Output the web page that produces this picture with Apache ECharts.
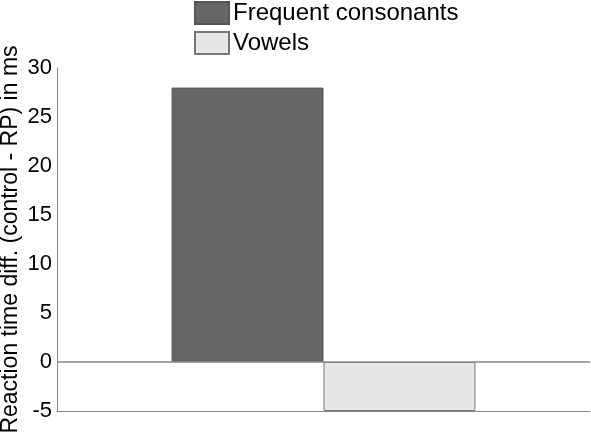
<!DOCTYPE html>
<html>
<head>
<meta charset="utf-8">
<script src="https://cdn.jsdelivr.net/npm/echarts@6/dist/echarts.min.js"></script>
<style>html,body{margin:0;padding:0;background:#fff;}#c{width:591px;height:439px;}</style>
</head>
<body>
<div id="c"></div>
<script>
const categories = ['RP effect'];
const seriesNames = ['Frequent consonants', 'Vowels'];
const consonantValues = [28];
const vowelValues = [-5];
const yTicks = [-5, 0, 5, 10, 15, 20, 25, 30];
const yAxisTitle = 'Reaction time diff. (control - RP) in ms';

const chart = echarts.init(document.getElementById('c'), null, {renderer: 'canvas'});
const FONT = 'Liberation Sans, Arial, sans-serif';
chart.setOption({
  animation: false,
  backgroundColor: '#ffffff',
  legend: {
    orient: 'vertical',
    left: 194,
    top: 1,
    padding: 0,
    itemWidth: 34,
    itemHeight: 22,
    itemGap: 6,
    textStyle: {fontFamily: FONT, fontSize: 24, color: '#000', lineHeight: 22, padding: [0,0,0,-1]},
    data: seriesNames.map((n) => ({name: n, icon: 'rect'}))
  },
  grid: {left: 57, right: 1, top: 68, bottom: 28, containLabel: false, outerBoundsMode: 'none'},
  xAxis: {
    type: 'category',
    data: categories,
    axisLine: {onZero: false, lineStyle: {color: '#888', width: 1}},
    axisTick: {show: false},
    axisLabel: {show: false}
  },
  yAxis: {
    type: 'value',
    min: yTicks[0],
    max: yTicks[yTicks.length - 1],
    interval: 5,
    name: yAxisTitle,
    nameLocation: 'middle',
    nameGap: 35,
    nameMoveOverlap: false,
    nameTextStyle: {fontFamily: FONT, fontSize: 23, color: '#000'},
    axisLine: {show: true, lineStyle: {color: '#888', width: 1}},
    axisTick: {show: false},
    splitLine: {show: false},
    axisLabel: {fontFamily: FONT, fontSize: 22, color: '#000', margin: 5}
  },
  series: [
    {
      name: seriesNames[0],
      type: 'bar',
      data: consonantValues,
      barGap: '0%',
      barCategoryGap: '43%',
      itemStyle: {color: '#666666', borderColor: '#555555', borderWidth: 1},
      markLine: {
        silent: true,
        symbol: 'none',
        label: {show: false},
        lineStyle: {color: '#888', width: 1.5, type: 'solid'},
        data: [{yAxis: 0}]
      }
    },
    {
      name: seriesNames[1],
      type: 'bar',
      data: vowelValues,
      itemStyle: {color: '#e6e6e6', borderColor: '#777777', borderWidth: 1}
    }
  ]
});
</script>
</body>
</html>
